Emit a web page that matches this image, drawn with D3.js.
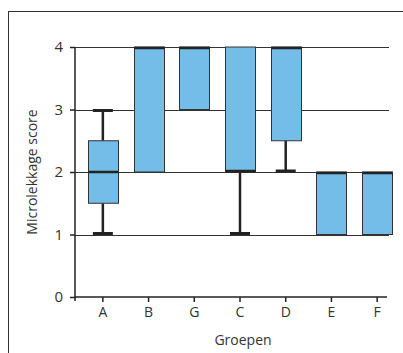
<!DOCTYPE html>
<html lang="nl">
  <head>
    <meta charset="UTF-8" />
    <title>Microlekkage score</title>
    <script src="https://d3js.org/d3.v7.min.js"></script>
    <style>
      body { margin: 0; background: #fff; }
      text { font-family: "Open Sans", "Noto Sans", sans-serif; fill: #333; }
    </style>
  </head>
  <body>
    <script>
      // groups in display order
      const groups = ["A", "B", "G", "C", "D", "E", "F"];
      // five-number summaries
      const mins    = [1,   2, 3, 1, 2,   1, 1];
      const q1s     = [1.5, 2, 3, 2, 2.5, 1, 1];
      const medians = [2,   4, 4, 2, 4,   2, 2];
      const q3s     = [2.5, 4, 4, 4, 4,   2, 2];
      const maxs    = [3,   4, 4, 4, 4,   2, 2];
      const yTicks = [0, 1, 2, 3, 4];

      const width = 403;
      const height = 353;
      const fontSize = "14px";

      const svg = d3.select("body")
        .append("svg")
        .attr("width", width)
        .attr("height", height);

      // outer frame (runs off the picture at right and bottom)
      svg.append("rect")
        .attr("x", 8.5)
        .attr("y", 11.5)
        .attr("width", 420)
        .attr("height", 360)
        .attr("fill", "none")
        .attr("stroke", "#333")
        .attr("stroke-width", 1);

      const x = d3.scaleBand()
        .domain(groups)
        .range([80, 400]);

      const y = d3.scaleLinear()
        .domain([0, 4])
        .range([297, 47]);

      const left = 75;
      const gridRight = 389;

      // horizontal grid lines
      svg.append("g")
        .selectAll("line")
        .data(yTicks.filter((d) => d > 0))
        .enter()
        .append("line")
        .attr("x1", left)
        .attr("x2", gridRight)
        .attr("y1", (d) => Math.round(y(d)) + 0.5)
        .attr("y2", (d) => Math.round(y(d)) + 0.5)
        .attr("stroke", "#333")
        .attr("stroke-width", 1);

      // y axis
      const yAxis = d3.axisLeft(y)
        .tickValues(yTicks)
        .tickFormat(d3.format("d"))
        .tickSize(5)
        .tickSizeOuter(0);
      const gy = svg.append("g")
        .attr("transform", `translate(${left},0)`)
        .call(yAxis);
      gy.select(".domain").remove();
      gy.selectAll(".tick line").attr("stroke", "#222").attr("stroke-width", 1.5);
      gy.selectAll(".tick text")
        .attr("x", -12)
        .style("font-size", "15px")
        .style("font-family", "'Open Sans', 'Noto Sans', sans-serif")
        .attr("fill", "#333");

      svg.append("line")
        .attr("x1", left).attr("x2", left)
        .attr("y1", y(4)).attr("y2", y(0) + 4)
        .attr("stroke", "#222").attr("stroke-width", 1.5);

      // x axis
      const xAxis = d3.axisBottom(x).tickSize(5).tickSizeOuter(0);
      const gx = svg.append("g")
        .attr("transform", `translate(0,${y(0)})`)
        .call(xAxis);
      gx.select(".domain").remove();
      gx.selectAll(".tick line").attr("stroke", "#222").attr("stroke-width", 1.5);
      gx.selectAll(".tick text")
        .attr("y", 10)
        .style("font-size", fontSize)
        .style("font-family", "'Open Sans', 'Noto Sans', sans-serif")
        .attr("fill", "#333");

      svg.append("line")
        .attr("x1", left).attr("x2", 387)
        .attr("y1", y(0)).attr("y2", y(0))
        .attr("stroke", "#222").attr("stroke-width", 1.5);

      // boxes
      const boxW = 30;
      const capW = 20;
      const rows = groups.map((g, i) => ({
        g, min: mins[i], q1: q1s[i], med: medians[i], q3: q3s[i], max: maxs[i]
      }));
      const cx = (d) => x(d.g) + x.bandwidth() / 2;

      const box = svg.append("g")
        .selectAll("g")
        .data(rows)
        .enter()
        .append("g");

      // whiskers
      box.filter((d) => d.min < d.q1)
        .append("line")
        .attr("x1", cx).attr("x2", cx)
        .attr("y1", (d) => y(d.q1)).attr("y2", (d) => y(d.min))
        .attr("stroke", "#222").attr("stroke-width", 2.5);
      box.filter((d) => d.min < d.q1)
        .append("line")
        .attr("x1", (d) => cx(d) - capW / 2).attr("x2", (d) => cx(d) + capW / 2)
        .attr("y1", (d) => y(d.min) - 1).attr("y2", (d) => y(d.min) - 1)
        .attr("stroke", "#222").attr("stroke-width", 3);
      box.filter((d) => d.max > d.q3)
        .append("line")
        .attr("x1", cx).attr("x2", cx)
        .attr("y1", (d) => y(d.q3)).attr("y2", (d) => y(d.max))
        .attr("stroke", "#222").attr("stroke-width", 2.5);
      box.filter((d) => d.max > d.q3)
        .append("line")
        .attr("x1", (d) => cx(d) - capW / 2).attr("x2", (d) => cx(d) + capW / 2)
        .attr("y1", (d) => y(d.max) + 1).attr("y2", (d) => y(d.max) + 1)
        .attr("stroke", "#222").attr("stroke-width", 3);

      box.append("rect")
        .attr("x", (d) => Math.round(cx(d) - boxW / 2) + 0.5)
        .attr("y", (d) => y(d.q3))
        .attr("width", boxW)
        .attr("height", (d) => y(d.q1) - y(d.q3))
        .attr("fill", "#74bde8")
        .attr("stroke", "#333")
        .attr("stroke-width", 1);

      // median line
      box.append("line")
        .attr("x1", (d) => Math.round(cx(d) - boxW / 2) + 0.5)
        .attr("x2", (d) => Math.round(cx(d) + boxW / 2) + 0.5)
        .attr("y1", (d) => y(d.med) + (d.med === d.q3 ? 1 : d.med === d.q1 ? -1 : 0))
        .attr("y2", (d) => y(d.med) + (d.med === d.q3 ? 1 : d.med === d.q1 ? -1 : 0))
        .attr("stroke", "#222")
        .attr("stroke-width", 2.5);

      // titles
      svg.append("text")
        .attr("x", 243)
        .attr("y", 345)
        .attr("text-anchor", "middle")
        .style("font-size", fontSize)
        .text("Groepen");

      svg.append("text")
        .attr("transform", `translate(37,${(y(0) + y(4)) / 2}) rotate(-90)`)
        .attr("text-anchor", "middle")
        .style("font-size", fontSize)
        .text("Microlekkage score");
    </script>
  </body>
</html>
